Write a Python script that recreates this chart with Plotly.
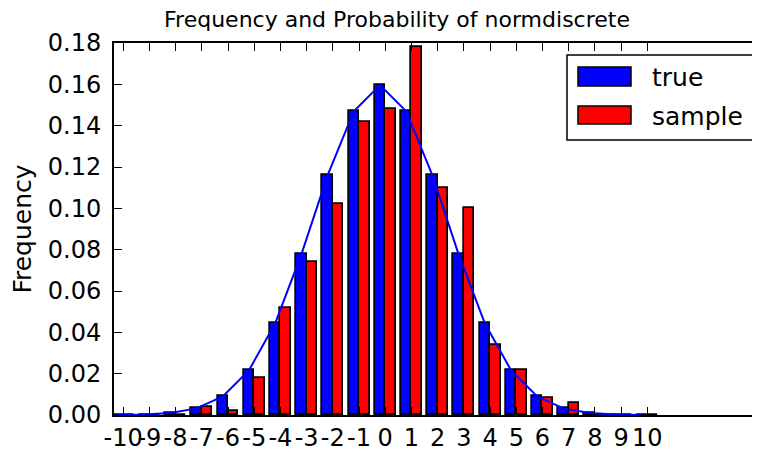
import plotly.graph_objects as go

# ---- data ----
values = list(range(-10, 11))
true_prob = [0.00005, 0.00024, 0.00095, 0.0032, 0.009, 0.0216, 0.0444, 0.0777, 0.1159, 0.147, 0.1596,
             0.147, 0.1159, 0.0777, 0.0444, 0.0216, 0.009, 0.0032, 0.00095, 0.00024, 0.00005]
sample_freq = [0.0, 0.0, 0.0, 0.004, 0.002, 0.018, 0.052, 0.074, 0.102, 0.142, 0.148,
               0.178, 0.110, 0.100, 0.034, 0.022, 0.008, 0.006, 0.0, 0.0, 0.0]
tick_labels = [str(v) for v in values]
ytick_vals = [0.00, 0.02, 0.04, 0.06, 0.08, 0.10, 0.12, 0.14, 0.16, 0.18]

# page has an 8px body margin; figure placed at (8, 8)
OFF = 8
W, H = 760 - OFF, 452 - OFF
L, R, T, B = 114 - OFF, 0, 43 - OFF, 37
bar_w = 0.4
FONT = "DejaVu Sans"

fig = go.Figure()
fig.add_trace(go.Bar(x=[v - bar_w / 2 for v in values], y=true_prob, width=bar_w,
                     marker=dict(color="#0000ff", line=dict(color="black", width=1.7)),
                     name="true", showlegend=False))
fig.add_trace(go.Bar(x=[v + bar_w / 2 for v in values], y=sample_freq, width=bar_w,
                     marker=dict(color="#ff0000", line=dict(color="black", width=1.7)),
                     name="sample", showlegend=False))
fig.add_trace(go.Scatter(x=[v - bar_w / 2 for v in values], y=true_prob, mode="lines",
                         line=dict(color="#0000ff", width=2), showlegend=False, hoverinfo="skip"))

pw = W - L - R
ph = H - T - B


def px2paper(px, py):
    # px, py are page coordinates as measured on the reference
    px -= OFF
    py -= OFF
    return (px - L) / pw, (H - B - py) / ph


# custom legend (matplotlib-style wide patches)
x0, y0 = px2paper(567, 55)
x1, y1 = px2paper(753, 140)
fig.add_shape(type="rect", xref="paper", yref="paper", x0=x0, y0=y1, x1=x1, y1=y0,
              line=dict(color="black", width=1.5), fillcolor="white", layer="above")
for name, color, top, bot, ty in [("true", "#0000ff", 67, 86, 77), ("sample", "#ff0000", 106, 124, 116)]:
    a0, b0 = px2paper(578, top)
    a1, b1 = px2paper(631, bot)
    fig.add_shape(type="rect", xref="paper", yref="paper", x0=a0, y0=b1, x1=a1, y1=b0,
                  line=dict(color="black", width=1.5), fillcolor=color, layer="above")
    tx, tyy = px2paper(650, ty)
    fig.add_annotation(xref="paper", yref="paper", x=tx, y=tyy, text=name, showarrow=False,
                       xanchor="left", yanchor="middle", font=dict(family=FONT, size=25, color="black"))

fig.update_layout(
    width=W, height=H,
    margin=dict(l=L, r=R, t=T, b=B, pad=0, autoexpand=False),
    paper_bgcolor="white", plot_bgcolor="white",
    barmode="overlay",
    bargap=0,
    font=dict(family=FONT, size=24, color="black"),
    title=dict(text="Frequency and Probability of normdiscrete", x=(397 - OFF) / W, xref="container",
               xanchor="center", y=1 - (19 - OFF) / H, yanchor="middle",
               font=dict(family=FONT, size=22, color="black")),
    xaxis=dict(range=[-10.35, 14.3], tickvals=values, ticktext=tick_labels, ticks="inside",
               ticklen=8, tickwidth=1, tickcolor="black", showline=True, linecolor="black",
               linewidth=2, mirror="ticks", showgrid=False, zeroline=False, tickangle=0,
               automargin=False, tickfont=dict(family=FONT, size=24), ticklabelstandoff=0),
    yaxis=dict(range=[0, 0.18], tickvals=ytick_vals, tickformat=".2f", ticks="inside",
               ticklen=8, tickwidth=1, tickcolor="black", showline=True, linecolor="black",
               linewidth=2, mirror=False, showgrid=False, zeroline=False, automargin=False,
               tickfont=dict(family=FONT, size=24), ticklabelstandoff=6,
               title=dict(text="Frequency", standoff=10, font=dict(family=FONT, size=25))),
    yaxis2=dict(range=[0, 0.18], tickvals=ytick_vals, overlaying="y", side="right",
                ticks="inside", ticklen=8, tickwidth=1, tickcolor="black", showline=False,
                showticklabels=False, showgrid=False, zeroline=False, automargin=False),
)

fig.write_html("out.html")
